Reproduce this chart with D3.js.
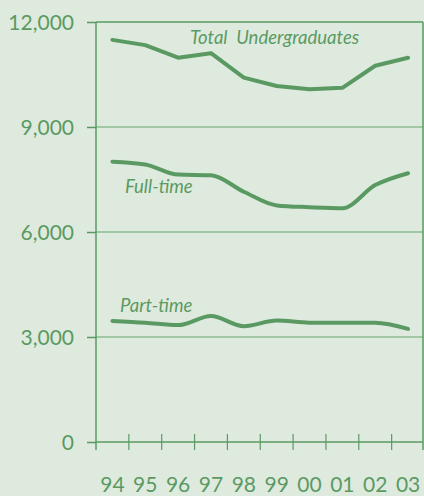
<!DOCTYPE html>
<html>
<head>
<meta charset="utf-8">
<script src="https://cdn.jsdelivr.net/npm/d3@7/dist/d3.min.js"></script>
<style>
  html, body { margin: 0; padding: 0; background: #dfeadf; }
  svg { display: block; }
  text { font-family: Lato, "Open Sans", sans-serif; fill: #5a9a62; }
</style>
</head>
<body>
<svg id="chart" width="424" height="496"></svg>
<script>
const years = ["94","95","96","97","98","99","00","01","02","03"];
const totalUndergrad = [11490, 11340, 10980, 11110, 10410, 10170, 10080, 10120, 10750, 10980];
const fullTime = [8010, 7930, 7640, 7620, 7150, 6760, 6710, 6680, 7340, 7680];
const partTime = [3460, 3410, 3340, 3600, 3310, 3470, 3410, 3410, 3410, 3230];
const yTicks = [0, 3000, 6000, 9000, 12000];
const seriesLabels = [
  {name: "Total  Undergraduates", data: totalUndergrad, lx: 190, ly: 44, smooth: false},
  {name: "Full-time", data: fullTime, lx: 125, ly: 193, smooth: true},
  {name: "Part-time", data: partTime, lx: 120, ly: 312, smooth: true}
];

const W = 424, H = 496;
const mLeft = 96, mRight = 423, mTop = 22, mBottom = 442;
const lineColor = "#5a9a62";
const gridColor = "#8bbd8f";

const svg = d3.select("#chart");
svg.append("rect").attr("width", W).attr("height", H).attr("fill", "#dfeadf");

const x = d3.scaleBand().domain(years).range([mLeft, mLeft + 32.85 * years.length]).paddingInner(0).paddingOuter(0);
const y = d3.scaleLinear().domain([0, 12000]).range([mBottom, mTop]);

// gridlines
svg.append("g").selectAll("line").data(yTicks).join("line")
  .attr("x1", mLeft).attr("x2", mRight)
  .attr("y1", d => y(d)).attr("y2", d => y(d))
  .attr("stroke", d => (d === 0 || d === 12000) ? lineColor : gridColor)
  .attr("stroke-width", 1.5);

// y axis ticks + labels
const yAxis = d3.axisLeft(y).tickValues(yTicks).tickSize(9).tickPadding(13).tickFormat(d3.format(","));
const gy = svg.append("g").attr("transform", `translate(${mLeft},0)`).call(yAxis);
gy.select(".domain").remove();
gy.selectAll(".tick line").attr("stroke", lineColor).attr("stroke-width", 1.5);
gy.selectAll(".tick text").attr("font-size", 21).attr("font-family", "Lato, sans-serif").attr("fill", "#5a9a62").attr("dy", "0.36em");

// frame: left axis, right side
svg.append("line").attr("x1", mLeft).attr("x2", mLeft).attr("y1", mTop).attr("y2", mBottom + 8)
  .attr("stroke", lineColor).attr("stroke-width", 1.5);
svg.append("line").attr("x1", mRight).attr("x2", mRight).attr("y1", mTop).attr("y2", mBottom + 8)
  .attr("stroke", lineColor).attr("stroke-width", 1.5);

// x ticks at band boundaries
const bounds = years.slice(1).map(d => x(d));
svg.append("g").selectAll("line").data(bounds).join("line")
  .attr("x1", d => d).attr("x2", d => d)
  .attr("y1", mBottom - 8).attr("y2", mBottom + 8)
  .attr("stroke", lineColor).attr("stroke-width", 1.2);

// x labels
svg.append("g").selectAll("text").data(years).join("text")
  .attr("x", d => x(d) + x.bandwidth() / 2)
  .attr("y", 492)
  .attr("text-anchor", "middle")
  .attr("font-size", 21)
  .text(d => d);

// lines
const lineSharp = d3.line()
  .x((d, i) => x(years[i]) + x.bandwidth() / 2)
  .y(d => y(d));
const lineSmooth = d3.line()
  .x((d, i) => x(years[i]) + x.bandwidth() / 2)
  .y(d => y(d))
  .curve(d3.curveMonotoneX);

svg.append("g").selectAll("path").data(seriesLabels).join("path")
  .attr("d", d => (d.smooth ? lineSmooth : lineSharp)(d.data))
  .attr("fill", "none")
  .attr("stroke", lineColor)
  .attr("stroke-width", 4)
  .attr("stroke-linejoin", "round")
  .attr("stroke-linecap", "round");

// series labels
svg.append("g").selectAll("text").data(seriesLabels).join("text")
  .attr("x", d => d.lx).attr("y", d => d.ly)
  .attr("font-size", 18.5)
  .attr("font-style", "italic")
  .attr("xml:space", "preserve")
  .style("white-space", "pre")
  .text(d => d.name);
</script>
</body>
</html>
